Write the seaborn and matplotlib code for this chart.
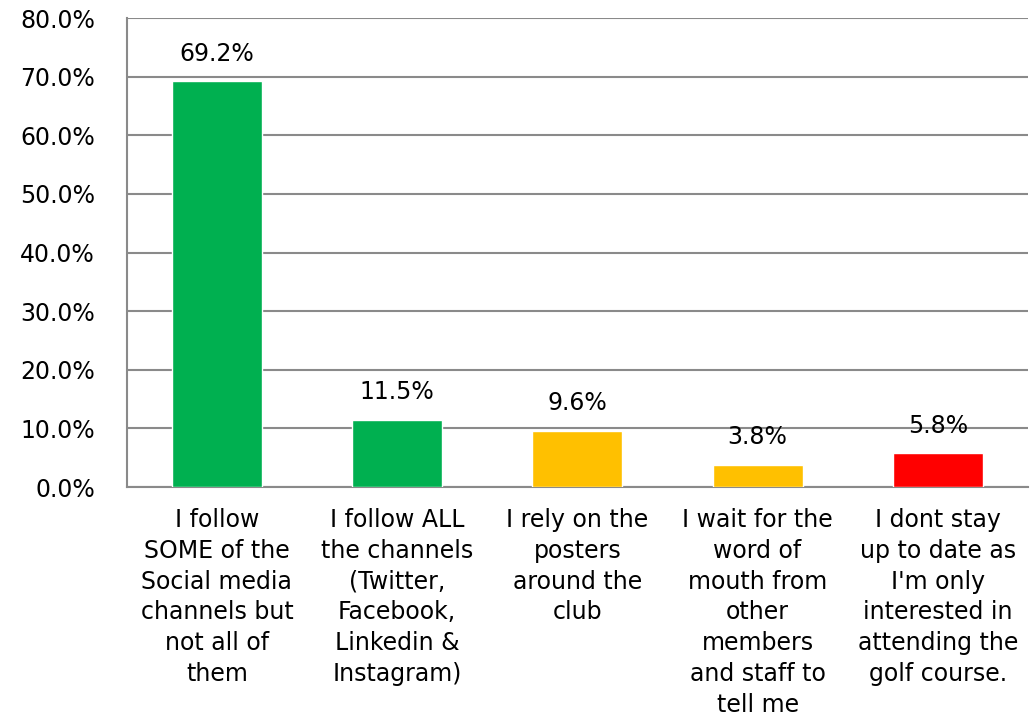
import numpy as np
import pandas as pd
import matplotlib
matplotlib.use("Agg")
import matplotlib.pyplot as plt
import seaborn as sns
from matplotlib.ticker import FuncFormatter, FixedLocator

categories = [
    "I follow\nSOME of the\nSocial media\nchannels but\nnot all of\nthem",
    "I follow ALL\nthe channels\n(Twitter,\nFacebook,\nLinkedin &\nInstagram)",
    "I rely on the\nposters\naround the\nclub",
    "I wait for the\nword of\nmouth from\nother\nmembers\nand staff to\ntell me",
    "I dont stay\nup to date as\nI'm only\ninterested in\nattending the\ngolf course.",
]
values = [69.2, 11.5, 9.6, 3.8, 5.8]
bar_colors = ["#00B050", "#00B050", "#FFC000", "#FFC000", "#FF0000"]
y_ticks = [0, 10, 20, 30, 40, 50, 60, 70, 80]

sns.set_style("white")
plt.rcParams["font.family"] = ["DejaVu Sans"]
plt.rcParams["text.color"] = "black"
plt.rcParams["xtick.labelcolor"] = "black"
plt.rcParams["ytick.labelcolor"] = "black"

df = pd.DataFrame({"category": categories, "value": values})

fig = plt.figure(figsize=(10.31, 7.2), dpi=100)
ax = fig.add_axes([0.123, 0.3236, 0.874, 0.6514])

sns.barplot(data=df, x="category", y="value", hue="category",
            palette=bar_colors, width=0.5, saturation=1, legend=False, ax=ax,
            zorder=3)

ax.set_ylim(0, 80)
ax.set_xlim(-0.5, len(categories) - 0.5)
ax.yaxis.set_major_locator(FixedLocator(y_ticks))
ax.yaxis.set_major_formatter(FuncFormatter(lambda v, _: f"{v:.1f}%"))
ax.grid(axis="y", color="#8a8a8a", linewidth=1.5, zorder=0)
ax.set_axisbelow(True)

for s in ["top", "right"]:
    ax.spines[s].set_visible(False)
for s in ["left", "bottom"]:
    ax.spines[s].set_color("#8a8a8a")
    ax.spines[s].set_linewidth(1.5)

fs = 17
ax.tick_params(axis="y", length=8, width=1.5, color="#8a8a8a",
               labelsize=fs, pad=15)
ax.tick_params(axis="x", which="major", length=0, labelsize=fs, pad=15)
ax.set_xticks(np.arange(-0.5, len(categories)), minor=True)
ax.tick_params(axis="x", which="minor", length=8, width=1.5, color="#8a8a8a")
for lab in ax.get_xticklabels():
    lab.set_linespacing(1.36)
    lab.set_va("top")

for i, v in enumerate(values):
    ax.annotate(f"{v:.1f}%", (i, v), xytext=(0, 11), textcoords="offset points",
                ha="center", va="bottom", fontsize=fs)

ax.set_xlabel("")
ax.set_ylabel("")

fig.savefig("out.png", dpi=100)
